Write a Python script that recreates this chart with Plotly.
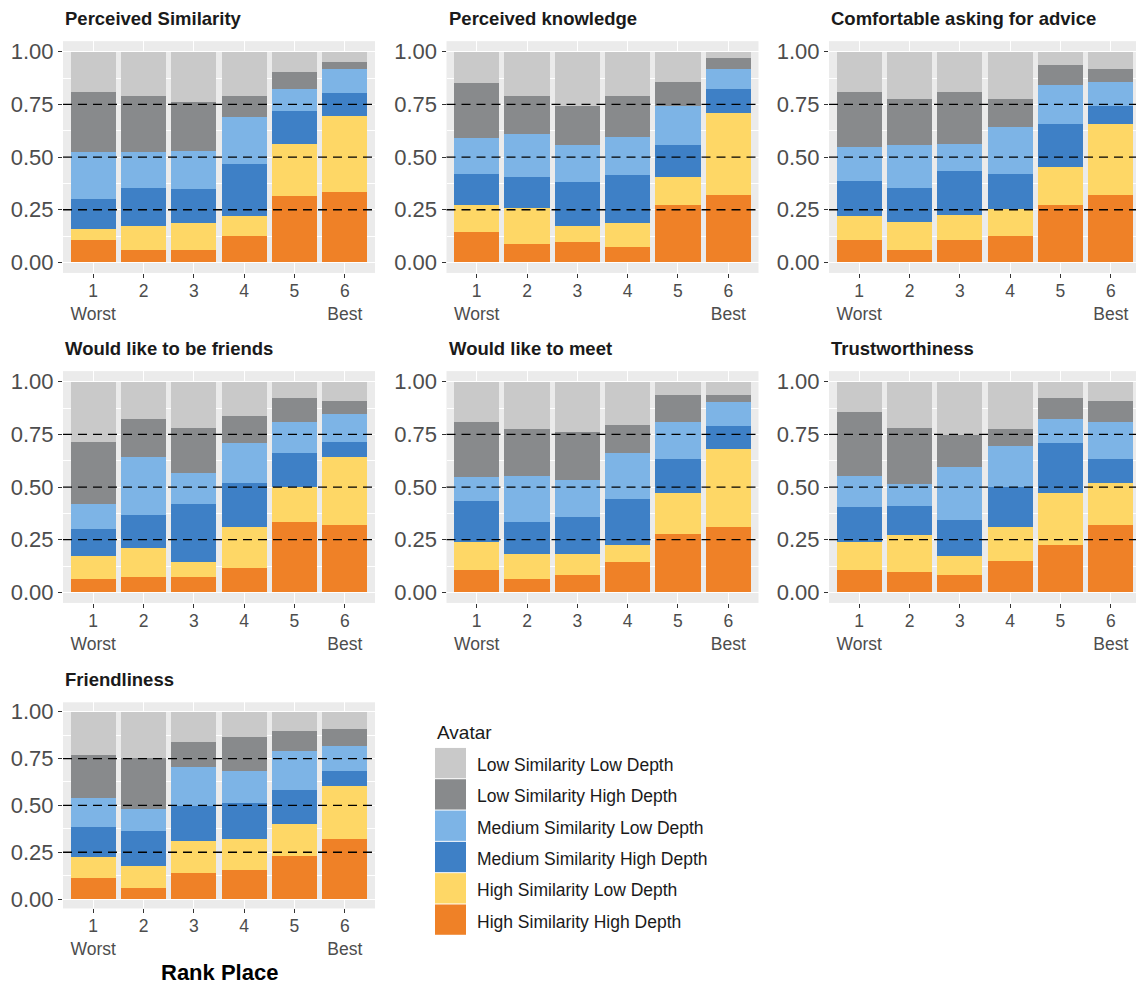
import plotly.graph_objects as go

# ---- data ---------------------------------------------------------------
RANKS = [1, 2, 3, 4, 5, 6]
RANK_LABELS = ["1<br>Worst", "2", "3", "4", "5", "6<br>Best"]

# Avatar groups, listed from the bottom of each stack to the top
AVATARS = [
    "High Similarity High Depth",
    "High Similarity Low Depth",
    "Medium Similarity High Depth",
    "Medium Similarity Low Depth",
    "Low Similarity High Depth",
    "Low Similarity Low Depth",
]
COLORS = ["#EF8127", "#FED766", "#3E80C6", "#7DB4E6", "#888A8C", "#C9C9C9"]

# Share of each avatar at each rank place; one row per rank (1..6),
# values in AVATARS order
PERCEIVED_SIMILARITY = [
    [0.107, 0.050, 0.146, 0.221, 0.283, 0.193],
    [0.057, 0.116, 0.182, 0.169, 0.268, 0.208],
    [0.057, 0.129, 0.163, 0.182, 0.228, 0.241],
    [0.127, 0.093, 0.247, 0.222, 0.103, 0.208],
    [0.316, 0.247, 0.157, 0.105, 0.079, 0.096],
    [0.336, 0.357, 0.112, 0.112, 0.034, 0.049],
]
PERCEIVED_KNOWLEDGE = [
    [0.142, 0.130, 0.148, 0.170, 0.261, 0.149],
    [0.088, 0.171, 0.144, 0.207, 0.182, 0.208],
    [0.096, 0.077, 0.209, 0.176, 0.183, 0.259],
    [0.075, 0.111, 0.228, 0.183, 0.195, 0.208],
    [0.272, 0.131, 0.155, 0.184, 0.115, 0.143],
    [0.322, 0.389, 0.114, 0.093, 0.051, 0.031],
]
COMFORTABLE_ASKING = [
    [0.107, 0.113, 0.168, 0.158, 0.261, 0.193],
    [0.057, 0.136, 0.162, 0.203, 0.216, 0.226],
    [0.107, 0.118, 0.211, 0.128, 0.243, 0.193],
    [0.127, 0.125, 0.169, 0.222, 0.131, 0.226],
    [0.272, 0.182, 0.202, 0.185, 0.096, 0.063],
    [0.322, 0.334, 0.085, 0.116, 0.060, 0.083],
]
LIKE_FRIENDS = [
    [0.063, 0.110, 0.130, 0.118, 0.294, 0.285],
    [0.075, 0.137, 0.157, 0.273, 0.183, 0.175],
    [0.075, 0.071, 0.275, 0.145, 0.214, 0.220],
    [0.115, 0.196, 0.209, 0.189, 0.129, 0.162],
    [0.336, 0.164, 0.162, 0.149, 0.112, 0.077],
    [0.322, 0.320, 0.072, 0.132, 0.064, 0.090],
]
LIKE_MEET = [
    [0.107, 0.132, 0.197, 0.110, 0.261, 0.193],
    [0.063, 0.118, 0.155, 0.216, 0.222, 0.226],
    [0.082, 0.099, 0.176, 0.176, 0.228, 0.239],
    [0.142, 0.084, 0.216, 0.220, 0.132, 0.206],
    [0.278, 0.195, 0.158, 0.176, 0.130, 0.063],
    [0.311, 0.370, 0.111, 0.112, 0.033, 0.063],
]
TRUSTWORTHINESS = [
    [0.107, 0.132, 0.164, 0.149, 0.305, 0.143],
    [0.096, 0.176, 0.137, 0.104, 0.267, 0.220],
    [0.082, 0.091, 0.170, 0.254, 0.150, 0.253],
    [0.148, 0.163, 0.189, 0.195, 0.079, 0.226],
    [0.226, 0.247, 0.236, 0.116, 0.098, 0.077],
    [0.322, 0.198, 0.111, 0.180, 0.099, 0.090],
]
FRIENDLINESS = [
    [0.112, 0.110, 0.162, 0.154, 0.229, 0.233],
    [0.059, 0.119, 0.184, 0.118, 0.271, 0.249],
    [0.140, 0.171, 0.183, 0.213, 0.133, 0.160],
    [0.155, 0.163, 0.197, 0.169, 0.179, 0.137],
    [0.229, 0.169, 0.185, 0.207, 0.109, 0.101],
    [0.318, 0.286, 0.080, 0.133, 0.089, 0.094],
]

PANELS = [
    ("Perceived Similarity", PERCEIVED_SIMILARITY),
    ("Perceived knowledge", PERCEIVED_KNOWLEDGE),
    ("Comfortable asking for advice", COMFORTABLE_ASKING),
    ("Would like to be friends", LIKE_FRIENDS),
    ("Would like to meet", LIKE_MEET),
    ("Trustworthiness", TRUSTWORTHINESS),
    ("Friendliness", FRIENDLINESS),
]

Y_TICKS = [0, 0.25, 0.5, 0.75, 1.0]
REF_LINES = [0.25, 0.5, 0.75]

# ---- page geometry (pixels) --------------------------------------------
W, H = 1136, 984
PANEL_W = 312
COL_LEFT = [63, 446.5, 829]
ROW_SPAN = [(38.4, 271.6), (370.4, 603.6), (703.6, 911)]

FONT = "Liberation Sans, Arial, sans-serif"
AXIS_TEXT = "#4D4D4D"
TICK_COL = "#333333"


def px_x(v):
    return v / W


def px_y(v):
    return 1 - v / H


fig = go.Figure()
shapes = []
annotations = []
layout_axes = {}

for i, (title, rows) in enumerate(PANELS):
    n = i + 1
    r, c = divmod(i, 3)
    left = COL_LEFT[c]
    right = min(left + PANEL_W, W)
    top, bottom = ROW_SPAN[r]
    xs = "x" if n == 1 else f"x{n}"
    ys = "y" if n == 1 else f"y{n}"
    xkey = "xaxis" if n == 1 else f"xaxis{n}"
    ykey = "yaxis" if n == 1 else f"yaxis{n}"

    for k, avatar in enumerate(AVATARS):
        fig.add_trace(go.Bar(
            x=RANKS,
            y=[row[k] for row in rows],
            width=0.9,
            marker=dict(color=COLORS[k], line=dict(width=0)),
            name=avatar,
            showlegend=False,
            xaxis=xs, yaxis=ys,
        ))

    x_hi = 0.4 + 6.2 * (right - left) / PANEL_W
    layout_axes[xkey] = dict(
        domain=[px_x(left), px_x(right)], anchor=ys,
        range=[0.4, x_hi], tickmode="array", tickvals=RANKS,
        ticktext=RANK_LABELS, ticks="outside", ticklen=4, tickwidth=1.1,
        tickcolor=TICK_COL, showgrid=True, gridcolor="white", gridwidth=1.3,
        zeroline=False, showline=False, ticklabelstandoff=-2,
        tickfont=dict(family=FONT, size=17.5, color=AXIS_TEXT),
    )
    layout_axes[ykey] = dict(
        domain=[px_y(bottom), px_y(top)], anchor=xs,
        range=[-0.05, 1.05], tickmode="array", tickvals=Y_TICKS,
        ticktext=[f"{v:.2f}" for v in Y_TICKS], ticks="outside", ticklen=4,
        tickwidth=1.1, tickcolor=TICK_COL, showgrid=True, gridcolor="white",
        gridwidth=1.3, zeroline=False, showline=False,
        minor=dict(tick0=0.125, dtick=0.25, showgrid=True,
                   gridcolor="white", gridwidth=0.6, ticks=""),
        tickfont=dict(family=FONT, size=22, color=AXIS_TEXT),
    )

    for v in REF_LINES:
        shapes.append(dict(
            type="line", xref=f"{xs} domain", yref=ys,
            x0=0, x1=1, y0=v, y1=v, layer="above",
            line=dict(color="black", width=1.3, dash="9px,6px"),
        ))

    annotations.append(dict(
        text=f"<b>{title}</b>", xref="paper", yref="paper",
        x=px_x(left), y=px_y(top - 22.6), xanchor="left", yanchor="middle",
        showarrow=False, font=dict(family=FONT, size=18.5, color="#1A1A1A"),
    ))

# x axis title under the bottom panel
annotations.append(dict(
    text="<b>Rank Place</b>", xref="paper", yref="paper",
    x=px_x(COL_LEFT[0] + PANEL_W / 2), y=px_y(975.5),
    xanchor="center", yanchor="middle", showarrow=False,
    font=dict(family=FONT, size=22, color="black"),
))

# legend: title, colour keys and labels (top entry = top of the stack)
LEG_X, LEG_TOP, KEY_W, KEY_H = 435, 749, 31, 31.5
annotations.append(dict(
    text="Avatar", xref="paper", yref="paper", x=px_x(LEG_X), y=px_y(734),
    xanchor="left", yanchor="middle", showarrow=False,
    font=dict(family=FONT, size=19, color="#1A1A1A"),
))
for j, k in enumerate(reversed(range(len(AVATARS)))):
    y0 = LEG_TOP + j * KEY_H
    shapes.append(dict(
        type="rect", xref="paper", yref="paper",
        x0=px_x(LEG_X), x1=px_x(LEG_X + KEY_W),
        y0=px_y(y0 + KEY_H - 0.5), y1=px_y(y0 + 0.5),
        fillcolor=COLORS[k], line=dict(width=0), layer="above",
    ))
    annotations.append(dict(
        text=AVATARS[k], xref="paper", yref="paper",
        x=px_x(LEG_X + 40), y=px_y(y0 + KEY_H / 2 + 2),
        xanchor="left", yanchor="middle", showarrow=False,
        font=dict(family=FONT, size=17.5, color="#1A1A1A"),
    ))

fig.update_layout(
    width=W, height=H, margin=dict(l=0, r=0, t=0, b=0),
    barmode="stack", paper_bgcolor="white", plot_bgcolor="#EBEBEB",
    font=dict(family=FONT), showlegend=False,
    shapes=shapes, annotations=annotations, **layout_axes,
)

fig.write_html("out.html")
